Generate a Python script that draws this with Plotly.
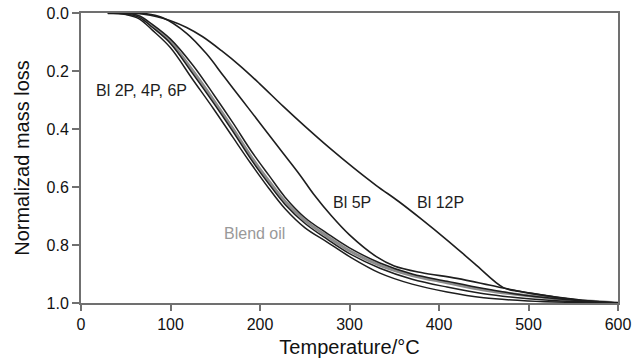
import plotly.graph_objects as go

# Temperature (°C) and normalized mass loss for each sample
t_bundle = [30, 50, 65, 80, 100, 125, 148, 170, 190, 210, 228, 250, 275, 300, 334, 370, 409, 450, 500, 550, 600]
blend_oil = [0, 0.002, 0.012, 0.045, 0.10, 0.20, 0.30, 0.40, 0.495, 0.58, 0.65, 0.715, 0.77, 0.82, 0.87, 0.905, 0.93, 0.955, 0.975, 0.99, 1.0]
bl_2p = [0, 0.005, 0.02, 0.06, 0.12, 0.23, 0.33, 0.43, 0.52, 0.605, 0.675, 0.74, 0.79, 0.84, 0.897, 0.935, 0.962, 0.982, 0.993, 0.998, 1.0]
bl_4p = [0, 0.0, 0.01, 0.04, 0.09, 0.18, 0.28, 0.38, 0.475, 0.56, 0.635, 0.705, 0.76, 0.81, 0.862, 0.90, 0.925, 0.95, 0.975, 0.99, 1.0]
bl_6p = [0, 0.003, 0.015, 0.05, 0.105, 0.21, 0.31, 0.41, 0.505, 0.59, 0.66, 0.725, 0.78, 0.83, 0.88, 0.918, 0.945, 0.968, 0.985, 0.995, 1.0]

t_5p = [30, 50, 66, 90, 118, 140, 160, 180, 200, 225, 245, 260, 280, 300, 330, 350, 380, 420, 465, 502, 558, 600]
bl_5p = [0, 0, 0.0, 0.015, 0.07, 0.14, 0.22, 0.30, 0.38, 0.48, 0.56, 0.625, 0.70, 0.765, 0.84, 0.872, 0.895, 0.915, 0.944, 0.966, 0.99, 1.0]

t_12p = [30, 55, 70, 85, 100, 118, 136, 157, 178, 200, 226, 250, 278, 305, 330, 355, 380, 409, 440, 472, 490, 520, 560, 600]
bl_12p = [0, 0, 0.004, 0.013, 0.027, 0.05, 0.082, 0.13, 0.183, 0.245, 0.322, 0.39, 0.466, 0.535, 0.595, 0.65, 0.71, 0.783, 0.865, 0.947, 0.96, 0.975, 0.992, 1.0]

x_ticks = [0, 100, 200, 300, 400, 500, 600]
y_ticks = [0.0, 0.2, 0.4, 0.6, 0.8, 1.0]

FONT = "Arial, Liberation Sans, sans-serif"
BLACK = "#1e1e1e"
GRAY = "#8c8c8c"
AXIS = "#707070"

fig = go.Figure()
fig.add_trace(go.Scatter(x=t_bundle, y=blend_oil, mode="lines", line=dict(color=GRAY, width=3, shape="spline", smoothing=1.0), name="Blend oil"))
for name, ys in [("Bl 2P", bl_2p), ("Bl 4P", bl_4p), ("Bl 6P", bl_6p)]:
    fig.add_trace(go.Scatter(x=t_bundle, y=ys, mode="lines", line=dict(color=BLACK, width=1.5, shape="spline", smoothing=1.0), name=name))
fig.add_trace(go.Scatter(x=t_5p, y=bl_5p, mode="lines", line=dict(color=BLACK, width=1.6, shape="spline", smoothing=1.0), name="Bl 5P"))
fig.add_trace(go.Scatter(x=t_12p, y=bl_12p, mode="lines", line=dict(color=BLACK, width=1.6, shape="spline", smoothing=1.0), name="Bl 12P"))

labels = [
    (67.6, 0.266, "Bl 2P, 4P, 6P", BLACK),
    (194.4, 0.759, "Blend oil", "#999999"),
    (303.3, 0.655, "Bl 5P", BLACK),
    (402.0, 0.655, "Bl 12P", BLACK),
]
for x, y, txt, col in labels:
    fig.add_annotation(x=x, y=y, text=txt, showarrow=False, font=dict(family=FONT, size=16, color=col))

fig.update_layout(
    width=643, height=362,
    margin=dict(l=81, r=25, t=13, b=59),
    paper_bgcolor="white", plot_bgcolor="white",
    showlegend=False,
    font=dict(family=FONT, size=16, color="#111111"),
)
fig.update_xaxes(
    range=[0, 600], tickvals=x_ticks, ticks="outside", ticklen=6, tickwidth=1.5, tickcolor=AXIS,
    showline=True, linewidth=2, linecolor=AXIS, mirror=True, showgrid=False, zeroline=False,
    title=dict(text="Temperature/°C", font=dict(size=20), standoff=8),
    tickfont=dict(size=16), automargin=False,
)
fig.update_yaxes(
    range=[1.0, 0.0], tickvals=y_ticks, tickformat=".1f", ticks="outside", ticklen=7, tickwidth=1.5, tickcolor=AXIS,
    showline=True, linewidth=2, linecolor=AXIS, mirror=True, showgrid=False, zeroline=False,
    title=dict(text="Normalizad mass loss", font=dict(size=20), standoff=12),
    tickfont=dict(size=16), automargin=False,
)

fig.write_html("out.html")
